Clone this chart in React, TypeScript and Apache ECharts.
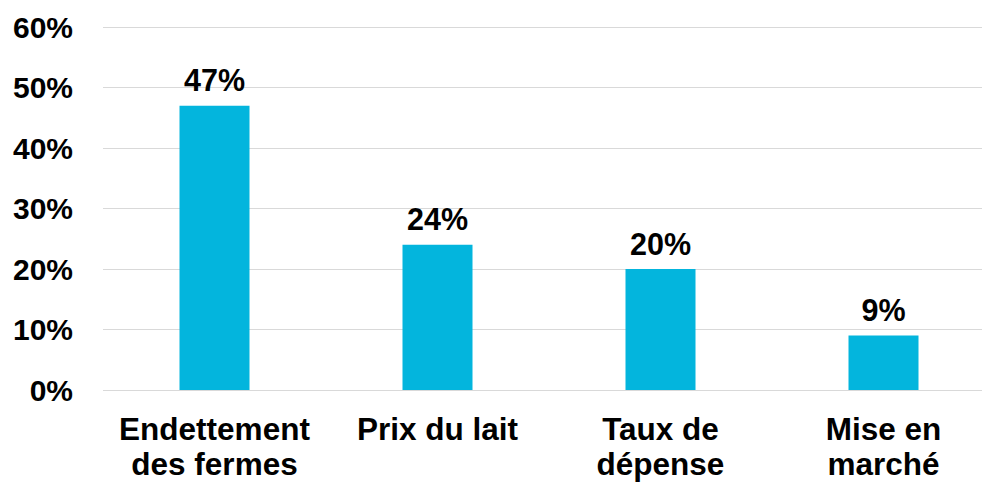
import React, { useEffect, useRef } from "react";
import * as echarts from "echarts";

const categories = ["Endettement\ndes fermes", "Prix du lait", "Taux de\ndépense", "Mise en\nmarché"];
const values = [47, 24, 20, 9];

export default function App() {
  const ref = useRef<HTMLDivElement>(null);
  useEffect(() => {
    if (!ref.current) return;
    const chart = echarts.init(ref.current, null, { renderer: "svg" });
    const font = "'Liberation Sans', Arial, sans-serif";
    chart.setOption({
      animation: false,
      grid: { left: 103, right: 0, top: 27, bottom: 93 },
      xAxis: {
        type: "category",
        data: categories,
        axisLine: { show: false },
        axisTick: { show: false },
        axisLabel: {
          color: "#000",
          fontFamily: font,
          fontWeight: "bold",
          fontSize: 31.5,
          lineHeight: 35,
          margin: 21,
          interval: 0,
        },
      },
      yAxis: {
        type: "value",
        min: 0,
        max: 60,
        interval: 10,
        axisLine: { show: false },
        axisTick: { show: false },
        splitLine: { lineStyle: { color: "#D9D9D9", width: 1 } },
        axisLabel: {
          color: "#000",
          fontFamily: font,
          fontWeight: "bold",
          fontSize: 30,
          margin: 30,
          formatter: "{value}%",
        },
      },
      series: [
        {
          type: "bar",
          data: values,
          barWidth: 70,
          itemStyle: { color: "#03B5DD" },
          label: {
            show: true,
            position: "top",
            distance: 10,
            color: "#000",
            fontFamily: font,
            fontWeight: "bold",
            fontSize: 30.5,
            formatter: "{c}%",
          },
        },
      ],
    });
    return () => chart.dispose();
  }, []);
  return (
    <div style={{ position: "fixed", left: 0, top: 0, width: 982, height: 483, overflow: "hidden", background: "#fff" }}>
      <div ref={ref} style={{ width: 995, height: 483 }} />
    </div>
  );
}
